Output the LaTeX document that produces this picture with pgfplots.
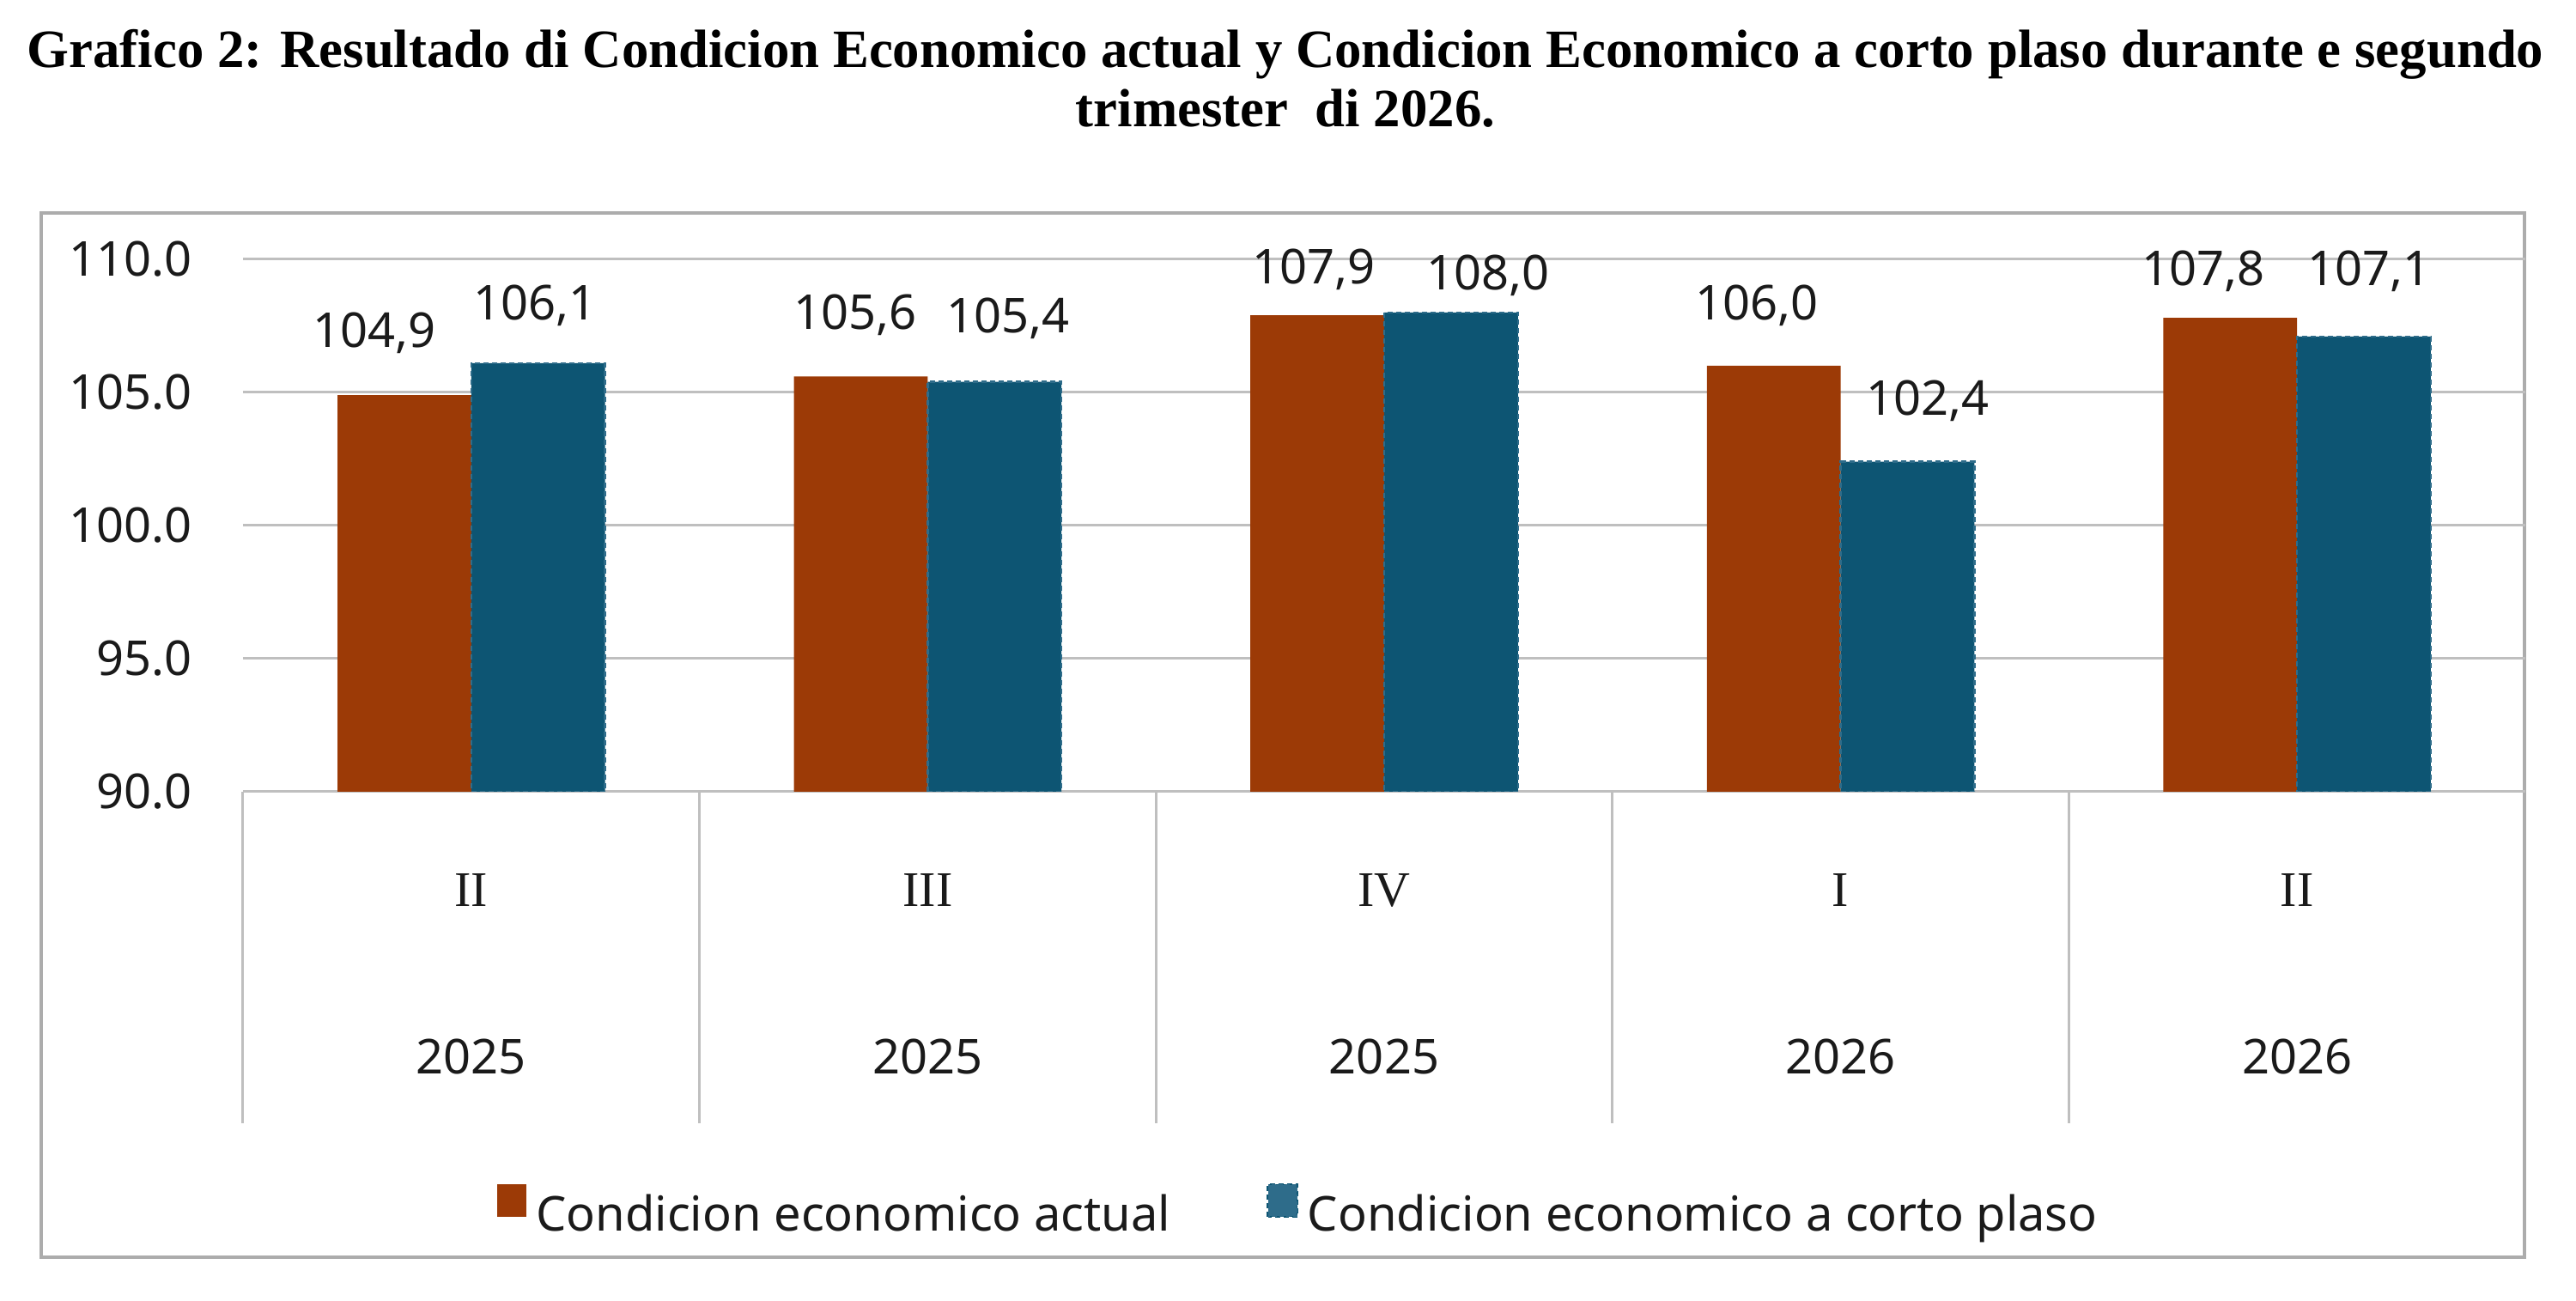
\documentclass[border=0pt]{standalone}
\usepackage{pgfplots}
\usepackage{pgfplotstable}
\pgfplotsset{compat=1.18}
\usepackage{fontspec}
\setmainfont{Noto Sans}
\newfontfamily\serif{Liberation Serif}
\definecolor{cOr}{HTML}{9C3A06}
\definecolor{cBl}{HTML}{0D5573}
\definecolor{cBlE}{HTML}{2E6C8A}
\definecolor{cGr}{HTML}{BFBFBF}
\definecolor{cTx}{HTML}{1A1A1A}
\newcommand{\fs}{\fontsize{14}{16}\selectfont}

\pgfplotstableread{
x y
0 104.9
1 105.6
2 107.9
3 106.0
4 107.8
}\actual
\pgfplotstableread{
x y
0 106.1
1 105.4
2 108.0
3 102.4
4 107.1
}\corto
\pgfplotstableread{
x y label
-0.212 107.22 104,9
0.140 108.27 106,1
0.842 107.90 105,6
1.176 107.78 105,4
1.845 109.63 107,9
2.227 109.38 108,0
2.817 108.27 106,0
3.191 104.69 102,4
3.795 109.57 107,8
4.158 109.57 107,1
}\labels

\begin{document}
\begin{tikzpicture}
\useasboundingbox (-70.75pt,-148.25pt) rectangle (679.25pt,230.5pt);
\draw[cGr!90!black, line width=0.85pt] (-58.75pt,-135.5pt) rectangle (664.25pt,168.5pt);
\node[font=\serif\bfseries\fontsize{15.7}{18}\selectfont, anchor=base, inner sep=0pt] at (303.5pt,210.9pt) {Grafico 2: Resultado di Condicion Economico actual y Condicion Economico a corto plaso durante e segundo};
\node[font=\serif\bfseries\fontsize{15.7}{18}\selectfont, anchor=base, inner sep=0pt] at (303.5pt,193.5pt) {trimester\ \ di 2026.};
\begin{axis}[
  at={(0pt,0pt)}, anchor=south west,
  width=664.5pt, height=155pt, scale only axis,
  xmin=-0.5, xmax=4.5, ymin=90, ymax=110,
  axis line style={draw=none},
  ytick={90,95,100,105,110},
  yticklabels={90.0,95.0,100.0,105.0,110.0},
  ymajorgrids, grid style={cGr, line width=0.75pt},
  major tick length=0pt,
  xtick={0,1,2,3,4},
  xticklabels={
    {{\serif\fontsize{14.5}{16}\selectfont II}\\[32.7pt]2025},
    {{\serif\fontsize{14.5}{16}\selectfont III}\\[32.7pt]2025},
    {{\serif\fontsize{14.5}{16}\selectfont IV}\\[32.7pt]2025},
    {{\serif\fontsize{14.5}{16}\selectfont I}\\[32.7pt]2026},
    {{\serif\fontsize{14.5}{16}\selectfont II}\\[32.7pt]2026}},
  minor xtick={-0.5,0.5,1.5,2.5,3.5},
  minor tick length=96.5pt,
  tick align=outside,
  tick pos=left,
  minor tick style={cGr, line width=0.75pt},
  tick label style={text=cTx},
  yticklabel style={font=\fs, inner sep=0pt, xshift=-14.75pt},
  xticklabel style={font=\fs, align=center, anchor=north, inner sep=0pt, yshift=-23.7pt},
  legend columns=2,
  legend cell align=left,
  legend style={at={(0.1114,-0.7355)}, anchor=north west, draw=none, fill=none,
    inner sep=0pt, outer sep=0pt, font=\fs, text=cTx, nodes={inner sep=0pt},
    /tikz/every even column/.append style={column sep=28pt}},
]
\addplot[ybar, bar width=0.293, bar shift=-0.1465, fill=cOr, draw=none,
  legend image code/.code={\fill[cOr] (0pt,-0.6pt) rectangle (8.5pt,8.9pt); \path (11.3pt,0pt);}]
  table[x=x,y=y]{\actual};
\addlegendentry{Condicion economico actual}
\addplot[ybar, bar width=0.293, bar shift=0.1465, fill=cBl, draw=cBlE, line width=0.6pt, dash pattern=on 1.5pt off 1pt,
  legend image code/.code={\fill[cBl] (0pt,-0.6pt) rectangle (8.5pt,8.9pt); \draw[cBlE, line width=0.4pt, dash pattern=on 1.2pt off 0.8pt] (0.2pt,-0.4pt) rectangle (8.3pt,8.7pt); \path (11.3pt,0pt);}]
  table[x=x,y=y]{\corto};
\addlegendentry{Condicion economico a corto plaso}
\addplot[forget plot, only marks, mark=text, text mark={},
  nodes near coords, point meta=explicit symbolic, nodes near coords align={center},
  every node near coord/.append style={font=\fs, text=cTx, inner sep=0pt}]
  table[x=x,y=y,meta=label]{\labels};
\end{axis}
\end{tikzpicture}
\end{document}
